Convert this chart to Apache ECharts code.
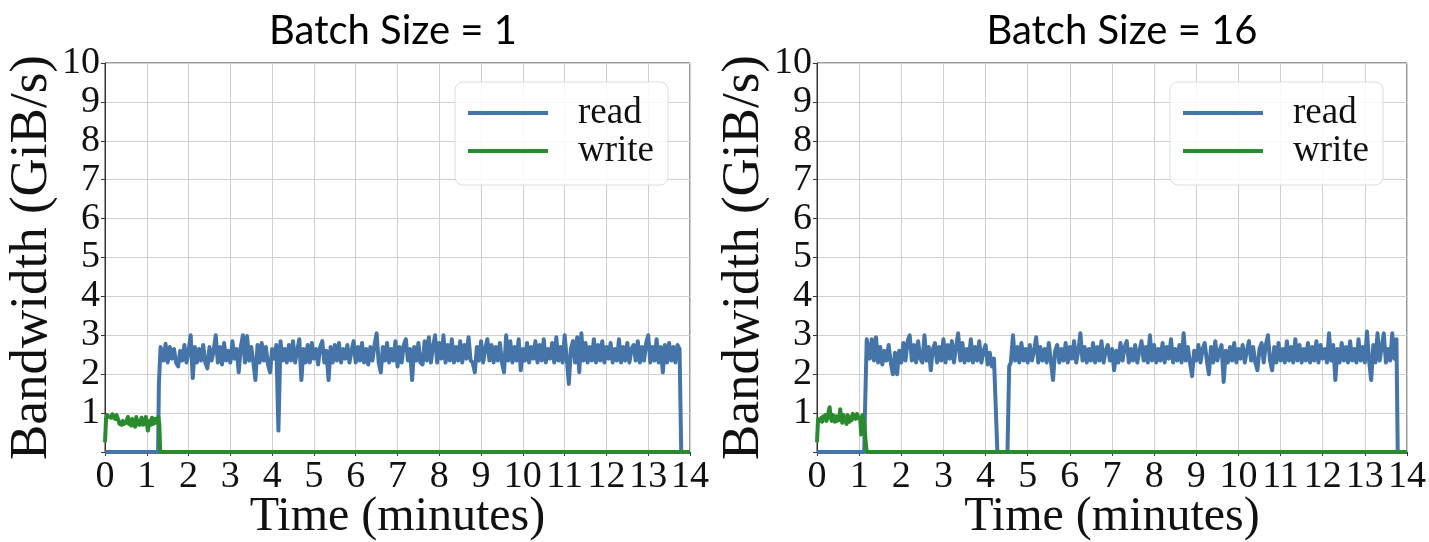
<!DOCTYPE html>
<html>
<head>
<meta charset="utf-8">
<script src="https://cdn.jsdelivr.net/npm/echarts@6/dist/echarts.min.js"></script>
<style>
html,body{margin:0;padding:0;background:#fff;}
#chart{width:1429px;height:542px;}
</style>
</head>
<body>
<div id="chart"></div>
<script>
// ---------- data ----------
const titles = ['Batch Size = 1', 'Batch Size = 16'];
const xTicks = [0,1,2,3,4,5,6,7,8,9,10,11,12,13,14];
const yTicks = [0,1,2,3,4,5,6,7,8,9,10];

// Batch size = 1
const write1Start = 0, write1Step = 0.025;
const write1Vals = [0.25,0.85,0.95,1.0,0.9,0.95,0.88,0.97,0.9,0.93,0.85,0.95,0.88,0.9,0.72,0.75,0.7,0.8,0.72,0.68,0.75,0.7,0.9,0.72,0.78,0.68,0.85,0.7,0.75,0.65,0.9,0.72,0.8,0.7,0.68,0.88,0.7,0.75,0.72,0.9,0.78,0.55,0.72,0.8,0.7,0.88,0.72,0.68,0.85,0.75,0.7,0.9,0.72];
const write1Tail = [[1.32,0],[14,0]];

const read1Head = [[0,0],[1.27,0],[1.29,1.75],[1.31,1.8],[1.33,2.7]];
const read1Start = 1.35, read1Step = 0.05;
const read1Vals = [
2.75,2.35,2.78,2.3,2.7,2.4,2.65,2.3,2.2,2.6,
2.35,2.75,2.3,2.6,3.0,1.9,2.7,2.3,2.65,2.35,
2.75,2.3,2.15,2.7,2.35,2.6,3.0,2.3,2.7,2.25,
2.8,2.35,2.6,2.3,2.85,2.4,2.65,2.05,2.7,3.0,
2.3,2.98,2.35,2.7,2.3,1.85,2.75,2.3,2.8,2.35,
2.7,2.25,2.05,2.65,2.4,2.75,0.55,2.85,2.35,2.65,
2.3,2.75,2.35,2.85,2.3,2.6,2.9,1.85,2.65,2.3,
2.75,2.3,2.8,2.4,2.65,2.25,2.7,2.85,2.3,2.6,
1.85,2.7,2.3,2.75,2.35,2.8,2.3,2.65,2.4,2.75,
2.3,2.6,2.85,2.3,2.7,2.35,2.8,2.3,2.65,2.25,
2.7,2.35,2.75,3.05,2.3,2.05,2.7,2.35,2.8,2.3,
2.65,2.35,2.85,2.2,2.7,2.3,2.75,2.9,2.35,2.65,
1.85,2.7,2.35,2.8,2.3,2.25,2.85,2.35,2.95,2.3,
2.7,3.0,2.3,2.8,2.4,3.0,2.3,2.75,2.35,2.9,
2.3,2.7,2.35,2.85,2.3,2.75,2.4,2.95,2.35,2.3,
2.05,2.7,2.35,2.85,2.3,2.65,2.9,2.35,2.75,2.3,
2.7,2.35,2.8,2.3,2.05,3.0,2.35,2.85,2.3,2.7,
2.35,2.9,2.1,2.65,2.35,2.8,2.3,2.7,2.4,2.85,
2.3,2.75,2.35,2.9,2.3,2.65,2.4,2.8,2.3,2.95,
2.35,2.7,2.3,3.0,2.4,1.75,2.65,2.85,2.3,2.95,
2.05,3.05,2.35,2.8,2.3,2.7,2.35,2.9,2.3,2.75,
2.35,2.85,2.3,2.7,2.4,2.8,2.3,2.65,2.35,2.9,
2.3,2.7,2.35,2.8,2.3,2.65,2.75,2.35,2.85,2.3,
2.7,2.35,2.8,3.0,2.3,2.7,2.35,2.9,2.3,2.7,
2.05,2.75,2.3,2.8,2.35,2.7,2.3,2.75,2.65];
const read1Tail = [[13.79,0]];

// Batch size = 16
const write16Start = 0, write16Step = 0.025;
const write16Vals = [0.25,0.85,0.9,0.8,0.88,0.78,0.92,0.85,0.95,0.8,0.9,0.85,1.15,0.88,0.8,0.95,0.85,0.78,0.92,0.8,0.88,0.82,1.1,0.9,0.75,0.95,0.8,0.88,0.72,0.95,0.85,0.78,0.9,0.82,0.98,0.88,0.95,0.85,0.98,0.9,0.95,0.85,0.45,0.95,0.9,0.7,0.3];
const write16Tail = [[1.18,0],[14,0]];

const read16Head = [[0,0],[1.12,0],[1.14,1.1],[1.18,2.9]];
const read16AStart = 1.2, read16AStep = 0.05;
const read16AVals = [
2.95,2.4,2.9,2.35,2.95,2.3,2.7,2.25,2.6,2.35,
2.75,2.3,2.0,2.55,2.0,2.6,2.3,2.8,2.35,2.85,
3.0,2.35,2.75,2.3,2.85,2.4,2.3,3.0,2.35,2.7,
2.1,2.65,2.8,2.3,2.7,2.35,2.9,2.3,2.75,2.4,
2.85,2.3,2.7,3.05,2.35,2.8,2.3,2.65,2.35,2.9,
2.3,2.7,2.35,2.85,2.3,2.6,2.75,2.25,2.55,2.2,
2.4];
const read16Gap = [[4.28,0],[4.52,0],[4.56,2.2]];
const read16BStart = 4.6, read16BStep = 0.05;
const read16BVals = [
2.3,3.0,2.35,2.7,2.3,2.8,2.35,2.65,2.3,2.75,
2.35,2.6,2.95,2.3,2.7,2.35,2.65,2.3,2.8,2.35,
1.85,2.6,2.75,2.3,2.65,2.35,2.8,2.3,2.7,2.4,
2.85,2.3,2.6,3.05,2.35,2.7,2.3,2.65,2.35,2.8,
2.3,2.7,2.35,2.85,2.3,2.6,2.75,2.35,2.65,2.1,
2.6,2.3,2.8,2.35,2.7,2.85,2.3,2.65,2.35,2.75,
2.3,2.6,2.85,2.35,2.7,2.3,3.0,2.35,2.75,2.3,
2.65,2.35,2.8,2.3,2.7,2.4,2.9,2.3,2.65,2.35,
2.75,2.3,3.05,2.35,2.7,2.3,1.95,2.6,2.35,2.75,
2.3,2.65,2.8,2.35,2.0,2.7,2.3,2.85,2.35,2.6,
2.75,1.8,2.6,2.3,2.7,2.35,2.8,2.3,2.65,2.4,
2.75,2.3,2.6,2.85,2.35,2.7,2.3,2.1,2.65,2.8,
2.3,2.75,3.0,2.35,2.1,2.7,2.3,2.8,2.35,2.65,
2.3,2.85,2.35,2.7,2.3,2.9,2.35,2.75,2.3,2.65,
2.35,2.8,2.3,2.7,2.35,2.85,2.3,2.75,2.4,2.65,
2.3,3.05,2.35,2.75,1.85,2.65,2.3,2.8,2.35,2.7,
2.3,2.85,2.35,2.65,2.3,2.9,2.35,2.7,2.3,3.1,
2.35,1.85,2.75,2.3,3.05,2.35,2.7,3.05,2.3,2.65,
2.35,3.05,2.4,2.9];
const read16Tail = [[13.78,0]];

// ---------- build ----------
function seg(start, step, vals){
  return vals.map((v,i)=>[Math.round((start+i*step)*1000)/1000, v]);
}
const read1 = read1Head.concat(seg(read1Start,read1Step,read1Vals), read1Tail);
const write1 = seg(write1Start,write1Step,write1Vals).concat(write1Tail);
const read16 = read16Head.concat(seg(read16AStart,read16AStep,read16AVals), read16Gap, seg(read16BStart,read16BStep,read16BVals), read16Tail);
const write16 = seg(write16Start,write16Step,write16Vals).concat(write16Tail);

const BLUE = '#4575a8', GREEN = '#2a8a2e';
const SERIF = '"Liberation Serif", "DejaVu Serif", serif';

const grids = [
  {left:105, width:585, top:63, height:389, show:true, borderColor:'#333', borderWidth:1, outerBoundsMode:'none', containLabel:false},
  {left:817, width:590, top:63, height:389, show:true, borderColor:'#333', borderWidth:1, outerBoundsMode:'none', containLabel:false}
];

function xAx(i){
  return {
    gridIndex:i, type:'value', min:xTicks[0], max:xTicks[xTicks.length-1], interval:1,
    name:'Time (minutes)', nameLocation:'middle', nameGap:41, nameMoveOverlap:false,
    nameTextStyle:{fontFamily:SERIF, fontSize:48, color:'#111'},
    axisLine:{show:true, lineStyle:{color:'#333', width:1}},
    axisTick:{show:true, length:4, lineStyle:{color:'#333'}},
    axisLabel:{fontFamily:SERIF, fontSize:38, color:'#111', margin:6, showMinLabel:true, showMaxLabel:true, hideOverlap:false},
    splitLine:{show:true, lineStyle:{color:'#cfcfcf', width:1}}
  };
}
function yAx(i){
  return {
    gridIndex:i, type:'value', min:yTicks[0], max:yTicks[yTicks.length-1], interval:1,
    name:'Bandwidth (GiB/s)', nameLocation:'middle', nameGap:46,
    nameTextStyle:{fontFamily:SERIF, fontSize:53, color:'#111'},
    axisLine:{show:true, lineStyle:{color:'#333', width:1}},
    axisTick:{show:true, length:4, lineStyle:{color:'#333'}},
    axisLabel:{fontFamily:SERIF, fontSize:38, color:'#111', margin:5, showMinLabel:true, showMaxLabel:true, hideOverlap:false,
      formatter: v => v===0 ? '' : String(v)},
    splitLine:{show:true, lineStyle:{color:'#cfcfcf', width:1}}
  };
}
function legend(left){
  return {
    left:left, top:82, orient:'vertical', itemWidth:80, itemHeight:4, icon:'rect', itemGap:0,
    padding:[12,14,15,13],
    backgroundColor:'rgba(255,255,255,0.85)', borderColor:'#dddddd', borderWidth:1, borderRadius:8,
    textStyle:{fontFamily:SERIF, fontSize:37, color:'#111', lineHeight:38, padding:[0,0,0,25]},
    data:['read','write'],
    selectedMode:false
  };
}
function line(name, xi, data, color){
  return {
    name:name, type:'line', xAxisIndex:xi, yAxisIndex:xi, data:data,
    showSymbol:false, symbol:'none', color:color,
    lineStyle:{color:color, width:4, join:'round'}, z: name==='write'?3:2
  };
}

const chart = echarts.init(document.getElementById('chart'), null, {renderer:'canvas'});
chart.setOption({
  animation:false,
  backgroundColor:'#fff',
  title:[
    {text:titles[0], left:388, top:6, textAlign:'center',
     textStyle:{fontFamily:'Lato, "Open Sans", sans-serif', fontSize:40, fontWeight:'normal', color:'#000'}},
    {text:titles[1], left:1117, top:6, textAlign:'center',
     textStyle:{fontFamily:'Lato, "Open Sans", sans-serif', fontSize:40, fontWeight:'normal', color:'#000'}}
  ],
  grid:grids,
  xAxis:[xAx(0), xAx(1)],
  yAxis:[yAx(0), yAx(1)],
  legend:[legend(455), legend(1170)],
  series:[
    line('read',0,read1,BLUE),
    line('write',0,write1,GREEN),
    line('read',1,read16,BLUE),
    line('write',1,write16,GREEN)
  ]
});
</script>
</body>
</html>
